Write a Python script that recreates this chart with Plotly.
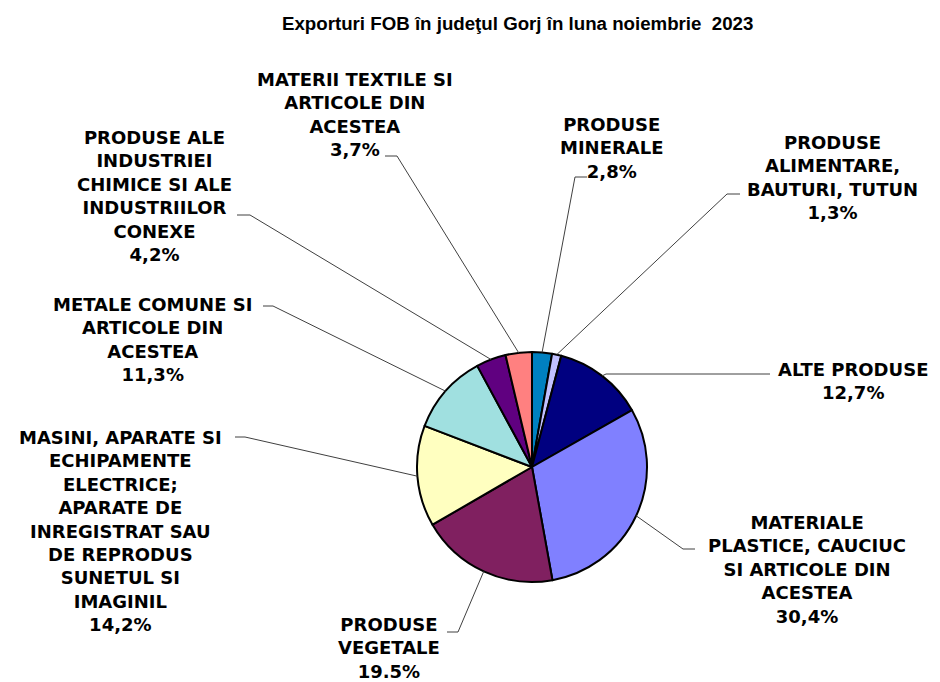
import math
import plotly.graph_objects as go

# ---- data ----
categories = [
    "PRODUSE<br>MINERALE",
    "PRODUSE<br>ALIMENTARE,<br>BAUTURI, TUTUN",
    "ALTE PRODUSE",
    "MATERIALE<br>PLASTICE, CAUCIUC<br>SI ARTICOLE DIN<br>ACESTEA",
    "PRODUSE<br>VEGETALE",
    "MASINI, APARATE SI<br>ECHIPAMENTE<br>ELECTRICE;<br>APARATE DE<br>INREGISTRAT SAU<br>DE REPRODUS<br>SUNETUL SI<br>IMAGINIL",
    "METALE COMUNE SI<br>ARTICOLE DIN<br>ACESTEA",
    "PRODUSE ALE<br>INDUSTRIEI<br>CHIMICE SI ALE<br>INDUSTRIILOR<br>CONEXE",
    "MATERII TEXTILE SI<br>ARTICOLE DIN<br>ACESTEA",
]
values = [2.8, 1.3, 12.7, 30.4, 19.5, 14.2, 11.3, 4.2, 3.7]
pct_labels = ["2,8%", "1,3%", "12,7%", "30,4%", "19.5%", "14,2%", "11,3%", "4,2%", "3,7%"]
colors = ["#0080C0", "#C0C0FF", "#000080", "#8080FF", "#802060",
          "#FFFFC0", "#A0E0E0", "#600080", "#FF8080"]
title_text = "Exporturi FOB în judeţul Gorj în luna noiembrie  2023"

# ---- layout geometry (screen pixels; page body has an 8px margin) ----
OFF = 8
W, H = 940 - OFF, 682 - OFF
CX, CY, R = 532, 467, 115

def px(x):
    return (x - OFF) / W

def py(y):
    return 1 - (y - OFF) / H

# label block centres and leader elbow / end points (screen pixels)
label_pos = [(612, 148), (832, 177), (853, 381), (807, 569), (389, 648),
             (120, 531), (152, 339), (154, 196), (355, 114)]
elbows = [(575, 177), (727, 194), (606, 374), (683, 549), (458, 632),
          (245, 437), (273, 306), (250, 215), (397, 156)]
ends = [(587, 177), (740, 194), (770, 374), (695, 549), (447, 632),
        (235, 437), (263, 306), (237, 215), (385, 156)]

fig = go.Figure(go.Pie(
    labels=[c.replace("<br>", " ") for c in categories],
    values=values,
    sort=False,
    direction="clockwise",
    rotation=0,
    textinfo="none",
    hoverinfo="skip",
    marker=dict(colors=colors, line=dict(color="black", width=2)),
    domain=dict(x=[px(CX - R), px(CX + R)], y=[py(CY + R), py(CY - R)]),
    showlegend=False,
))

total = sum(values)
cum = 0.0
shapes = []
annotations = []
for i, v in enumerate(values):
    theta = 2 * math.pi * (cum + v / 2) / total
    cum += v
    ex = CX + R * math.sin(theta)
    ey = CY - R * math.cos(theta)
    (bx, by), (tx, ty) = elbows[i], ends[i]
    path = f"M {px(ex)},{py(ey)} L {px(bx)},{py(by)} L {px(tx)},{py(ty)}"
    shapes.append(dict(type="path", path=path, xref="paper", yref="paper",
                       line=dict(color="#404040", width=1)))
    lx, ly = label_pos[i]
    annotations.append(dict(
        text=categories[i] + "<br>" + pct_labels[i],
        x=px(lx), y=py(ly), xref="paper", yref="paper",
        xanchor="center", yanchor="middle", showarrow=False, align="center",
        font=dict(family="DejaVu Sans", size=18, color="black", weight="bold"),
    ))

annotations.append(dict(
    text="<b>" + title_text + "</b>",
    x=px(517), y=py(23), xref="paper", yref="paper",
    xanchor="center", yanchor="middle", showarrow=False,
    font=dict(family="Liberation Sans, Arial", size=18.7, color="black"),
))

fig.update_layout(
    width=W, height=H,
    margin=dict(l=0, r=0, t=0, b=0),
    paper_bgcolor="white", plot_bgcolor="white",
    shapes=shapes, annotations=annotations,
)

fig.write_html("out.html")
